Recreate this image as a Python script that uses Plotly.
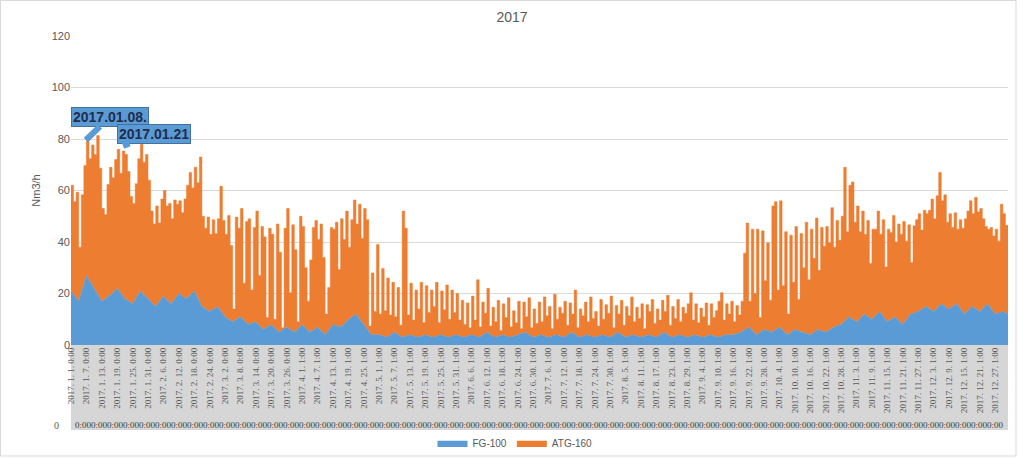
import plotly.graph_objects as go

# ---------------- data ----------------
# FG-100: sampled every 3 days (day 0 .. 363) plus day 365
fg100_days = list(range(0, 364, 3)) + [365]
fg100_jan_feb = [21, 17, 27, 22, 17, 19, 22, 18, 16, 21, 18,
                 15, 19, 16, 20, 18, 21, 15, 13, 15]
fg100_mar_apr = [11, 9, 11, 8, 9, 6, 8, 5, 7, 5,
                 8, 5, 7, 4, 8, 7, 10, 12, 8, 4]
fg100_may_aug = [4, 3, 5, 3, 4, 3, 4, 3, 4, 3, 4,
                 3, 4, 3, 5, 3, 4, 3, 4, 5, 3, 4, 3, 4, 3, 5, 3, 4, 3, 4, 3,
                 5, 3, 4, 3, 4, 3, 5, 3, 4, 3, 4]
fg100_sep_oct = [3, 4, 3, 4, 4, 5, 7, 4, 6,
                 5, 7, 4, 6, 5, 4, 6, 5, 7, 8, 11]
fg100_nov_dec = [9, 12, 10, 13, 9, 11, 8, 12, 13, 15,
                 13, 16, 14, 16, 12, 15, 13, 16, 12, 13, 12]
fg100 = fg100_jan_feb + fg100_mar_apr + fg100_may_aug + fg100_sep_oct + fg100_nov_dec

# ATG-160 (stacked on FG-100): one value per day, day 0 .. 365
atg160_jan = [41, 36, 41, 21, 38, 46, 54, 47, 54, 52, 61, 50, 36, 33, 44, 50, 45, 51, 54, 46,
              56, 56, 50, 41, 39, 45, 53, 57, 51, 55, 46]
atg160_feb = [35, 31, 39, 31, 39, 41, 36, 38, 33, 39, 36, 36, 32, 38, 44, 48, 41, 48, 44, 56,
              35, 31, 36, 30, 35, 29, 34, 48]
atg160_mar = [36, 32, 40, 29, 5, 40, 35, 42, 14, 39, 41, 13, 37, 43, 19, 39, 36, 4, 38, 35,
              3, 41, 31, 1, 39, 46, 14, 41, 32, 3, 43]
atg160_apr = [38, 23, 11, 28, 40, 42, 34, 41, 29, 8, 17, 39, 37, 40, 22, 42, 33, 43, 28, 38,
              45, 35, 44, 32, 45, 42, 2, 24, 9, 35]
atg160_may = [8, 26, 10, 23, 8, 20, 6, 18, 4, 49, 42, 8, 20, 6, 18, 11, 21, 5, 19, 9,
              18, 12, 21, 5, 17, 10, 20, 7, 18, 9, 16]
atg160_jun = [6, 14, 5, 13, 3, 15, 6, 22, 4, 13, 8, 17, 3, 11, 6, 14, 2, 12, 7, 15,
              4, 10, 5, 13, 2, 12, 6, 14, 3, 11]
atg160_jul = [5, 13, 5, 15, 8, 12, 3, 16, 6, 11, 9, 14, 4, 12, 7, 17, 3, 11, 8, 13,
              5, 15, 7, 10, 4, 14, 6, 12, 9, 16, 3]
atg160_aug = [11, 7, 13, 4, 12, 8, 15, 5, 11, 7, 13, 3, 12, 9, 14, 5, 11, 6, 13, 8,
              15, 4, 12, 7, 14, 5, 11, 9, 13, 17, 6]
atg160_sep = [12, 5, 11, 8, 13, 4, 12, 7, 10, 14, 17, 6, 12, 8, 13, 5, 11, 7, 12, 30,
              41, 10, 39, 15, 41, 6, 39, 19, 34, 12]
atg160_oct = [49, 50, 15, 49, 17, 39, 8, 38, 19, 40, 12, 38, 25, 43, 21, 41, 29, 44, 23, 40,
              33, 41, 34, 47, 31, 41, 33, 42, 60, 34, 51]
atg160_nov = [53, 38, 45, 34, 41, 31, 37, 21, 35, 34, 40, 30, 37, 20, 36, 34, 40, 29, 37, 34,
              40, 31, 36, 20, 34, 36, 38, 31, 38, 36]
atg160_dec = [38, 43, 36, 44, 52, 40, 43, 33, 37, 31, 36, 29, 34, 32, 37, 39, 42, 36, 43, 38,
              40, 35, 31, 29, 31, 29, 33, 28, 42, 38, 34, 10]

atg160 = (atg160_jan + atg160_feb + atg160_mar + atg160_apr + atg160_may + atg160_jun +
          atg160_jul + atg160_aug + atg160_sep + atg160_oct + atg160_nov + atg160_dec)
atg160_days = list(range(len(atg160)))

# x tick labels (every 6 days)
tick_days = list(range(0, 361, 6))
tick_labels = [
    "2017. 1. 1. 0:00", "2017. 1. 7. 0:00", "2017. 1. 13. 0:00", "2017. 1. 19. 0:00",
    "2017. 1. 25. 0:00", "2017. 1. 31. 0:00", "2017. 2. 6. 0:00", "2017. 2. 12. 0:00",
    "2017. 2. 18. 0:00", "2017. 2. 24. 0:00", "2017. 3. 2. 0:00", "2017. 3. 8. 0:00",
    "2017. 3. 14. 0:00", "2017. 3. 20. 0:00", "2017. 3. 26. 0:00", "2017. 4. 1. 1:00",
    "2017. 4. 7. 1:00", "2017. 4. 13. 1:00", "2017. 4. 19. 1:00", "2017. 4. 25. 1:00",
    "2017. 5. 1. 1:00", "2017. 5. 7. 1:00", "2017. 5. 13. 1:00", "2017. 5. 19. 1:00",
    "2017. 5. 25. 1:00", "2017. 5. 31. 1:00", "2017. 6. 6. 1:00", "2017. 6. 12. 1:00",
    "2017. 6. 18. 1:00", "2017. 6. 24. 1:00", "2017. 6. 30. 1:00", "2017. 7. 6. 1:00",
    "2017. 7. 12. 1:00", "2017. 7. 18. 1:00", "2017. 7. 24. 1:00", "2017. 7. 30. 1:00",
    "2017. 8. 5. 1:00", "2017. 8. 11. 1:00", "2017. 8. 17. 1:00", "2017. 8. 23. 1:00",
    "2017. 8. 29. 1:00", "2017. 9. 4. 1:00", "2017. 9. 10. 1:00", "2017. 9. 16. 1:00",
    "2017. 9. 22. 1:00", "2017. 9. 28. 1:00", "2017. 10. 4. 1:00", "2017. 10. 10. 1:00",
    "2017. 10. 16. 1:00", "2017. 10. 22. 1:00", "2017. 10. 28. 1:00", "2017. 11. 3. 1:00",
    "2017. 11. 9. 1:00", "2017. 11. 15. 1:00", "2017. 11. 21. 1:00", "2017. 11. 27. 1:00",
    "2017. 12. 3. 1:00", "2017. 12. 9. 1:00", "2017. 12. 15. 1:00", "2017. 12. 21. 1:00",
    "2017. 12. 27. 1:00",
]

# callouts: (day, value, label)
callout_days = [5.8, 20.3]
callout_values = [79.6, 77.3]
callout_labels = ["2017.01.08.", "2017.01.21"]

# ---------------- figure ----------------
W, H = 1024, 458
L, R, T, B = 71, 16, 36, 113
PW, PH = W - L - R, H - T - B

BLUE = "#5b9bd5"
ORANGE = "#ed7d31"
GRAY_TXT = "#595959"

fig = go.Figure()
fig.add_trace(go.Scatter(
    x=fg100_days, y=fg100, name="FG-100", mode="lines",
    stackgroup="one", stackgaps="interpolate",
    line=dict(width=0.5, color=BLUE), fillcolor=BLUE,
))
fig.add_trace(go.Scatter(
    x=atg160_days, y=atg160, name="ATG-160", mode="lines",
    stackgroup="one", line_shape="hv",
    line=dict(width=0.5, color=ORANGE), fillcolor=ORANGE,
))

def px_x(px):
    return (px - L) / PW

def px_y(py):
    return (H - B - py) / PH

shapes = [
    # grey band behind the category labels
    dict(type="rect", xref="paper", yref="paper", x0=0, x1=1,
         y0=px_y(430), y1=0, fillcolor="#d6d6d6", line=dict(width=0), layer="below"),
    # outer chart frame
    dict(type="rect", xref="paper", yref="paper", x0=px_x(0.5), x1=px_x(1016),
         y0=px_y(456), y1=px_y(0.5), fillcolor="rgba(0,0,0,0)",
         line=dict(width=1, color="#d9d9d9"), layer="below"),
]

annotations = []
offsets = [(24, -23), (31, -12)]
for d, v, lab, (ax, ay) in zip(callout_days, callout_values, callout_labels, offsets):
    annotations.append(dict(
        x=d, y=v, xref="x", yref="y", text="<b>" + lab + "</b>",
        showarrow=True, arrowhead=0, arrowwidth=6, arrowcolor=BLUE,
        ax=ax, ay=ay, bgcolor=BLUE, bordercolor="#41719c", borderwidth=1,
        borderpad=1, font=dict(family="Liberation Sans", size=14, color="#1f2d4d"),
    ))

# second (overlapping) category row
annotations.append(dict(
    x=0.5, y=px_y(425), xref="paper", yref="paper", showarrow=False,
    text="0:00" * 58, font=dict(family="Liberation Serif", size=9, color="#3a3a3a"),
    xanchor="center", yanchor="middle",
))
annotations.append(dict(
    x=px_x(56), y=px_y(425), xref="paper", yref="paper", showarrow=False,
    text="0", font=dict(family="Liberation Serif", size=10, color=GRAY_TXT),
    xanchor="center", yanchor="middle",
))

fig.update_layout(
    width=W, height=H,
    margin=dict(l=L, r=R, t=T, b=B, autoexpand=False),
    paper_bgcolor="white", plot_bgcolor="white",
    title=dict(text="2017", x=0.5, xref="container", y=1 - 17 / H, yanchor="middle",
               font=dict(family="Liberation Sans", size=14, color=GRAY_TXT)),
    showlegend=True,
    legend=dict(orientation="h", x=px_x(515), xanchor="center", y=px_y(443),
                yanchor="middle", font=dict(family="Liberation Sans", size=10, color=GRAY_TXT),
                traceorder="normal", itemwidth=30, bgcolor="rgba(0,0,0,0)"),
    shapes=shapes,
    annotations=annotations,
)

fig.update_xaxes(
    range=[0, 365], tickmode="array", tickvals=tick_days, ticktext=tick_labels,
    tickangle=-90, tickfont=dict(family="Liberation Serif", size=9, color=GRAY_TXT),
    showgrid=False, zeroline=False, showline=False, ticks="", automargin=False,
)
fig.update_yaxes(
    range=[0, 120], dtick=20, showgrid=True, gridcolor="#d9d9d9", gridwidth=1,
    zeroline=False, showline=False, ticks="", automargin=False,
    tickfont=dict(family="Liberation Sans", size=11, color=GRAY_TXT),
    title=dict(text="Nm3/h", standoff=8, font=dict(family="Liberation Sans", size=11, color=GRAY_TXT)),
)

fig.write_html("out.html")
